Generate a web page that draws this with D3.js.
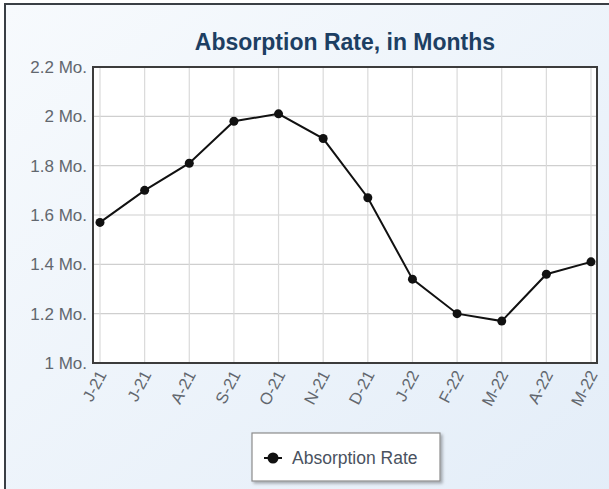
<!DOCTYPE html>
<html>
<head>
<meta charset="utf-8">
<script src="https://cdn.jsdelivr.net/npm/d3@7"></script>
<style>
  html, body { margin: 0; padding: 0; background: #fff; }
  svg { display: block; font-family: "Liberation Sans", Arial, sans-serif; }
</style>
</head>
<body>
<div id="chart"></div>
<script>
// --- Data ---
const months = ['J-21', 'J-21', 'A-21', 'S-21', 'O-21', 'N-21', 'D-21', 'J-22', 'F-22', 'M-22', 'A-22', 'M-22'];
const absorption = [1.57, 1.70, 1.81, 1.98, 2.01, 1.91, 1.67, 1.34, 1.20, 1.17, 1.36, 1.41];
const yTicks = [1, 1.2, 1.4, 1.6, 1.8, 2, 2.2];
const seriesName = 'Absorption Rate';
const title = 'Absorption Rate, in Months';

// --- Setup ---
const width = 609;
const height = 489;
const plot = { left: 93, right: 597, top: 67, bottom: 363 };

const svg = d3.select('#chart')
  .append('svg')
  .attr('width', width)
  .attr('height', height);

const defs = svg.append('defs');
const bg = defs.append('linearGradient')
  .attr('id', 'bg')
  .attr('x1', '0%').attr('y1', '0%')
  .attr('x2', '100%').attr('y2', '100%');
bg.append('stop').attr('offset', '0%').attr('stop-color', '#f7fafd');
bg.append('stop').attr('offset', '100%').attr('stop-color', '#e3edf8');

const shadow = defs.append('filter').attr('id', 'shadow')
  .attr('x', '-10%').attr('y', '-10%').attr('width', '130%').attr('height', '140%');
shadow.append('feDropShadow')
  .attr('dx', 2).attr('dy', 2).attr('stdDeviation', 1.5)
  .attr('flood-color', '#000').attr('flood-opacity', 0.3);

// Frame & background
svg.append('rect')
  .attr('x', 5).attr('y', 4)
  .attr('width', width + 10).attr('height', height + 10)
  .attr('fill', 'url(#bg)')
  .attr('stroke', '#3a3f45')
  .attr('stroke-width', 2);

// Title
svg.append('text')
  .attr('x', 345)
  .attr('y', 50)
  .attr('text-anchor', 'middle')
  .attr('font-size', 23)
  .attr('font-weight', 'bold')
  .attr('fill', '#1d3f63')
  .text(title);

// Scales
const x = d3.scaleLinear()
  .domain([0, months.length - 1])
  .range([100, 591]);

const y = d3.scaleLinear()
  .domain([1, 2.2])
  .range([plot.bottom, plot.top]);

// Plot background
svg.append('rect')
  .attr('x', plot.left).attr('y', plot.top)
  .attr('width', plot.right - plot.left)
  .attr('height', plot.bottom - plot.top)
  .attr('fill', '#fff');

// Gridlines
const grid = svg.append('g').attr('class', 'grid');
grid.selectAll('.hgrid')
  .data(yTicks)
  .enter().append('line')
  .attr('x1', plot.left).attr('x2', plot.right)
  .attr('y1', d => y(d)).attr('y2', d => y(d))
  .attr('stroke', '#cfcfcf')
  .attr('stroke-width', 1.2);

grid.selectAll('.vgrid')
  .data(d3.range(months.length))
  .enter().append('line')
  .attr('x1', d => x(d)).attr('x2', d => x(d))
  .attr('y1', plot.top).attr('y2', plot.bottom)
  .attr('stroke', '#dadada')
  .attr('stroke-width', 1.2);

// Y axis
const yAxis = d3.axisLeft(y)
  .tickValues(yTicks)
  .tickSize(0)
  .tickPadding(6)
  .tickFormat(d => `${d} Mo.`);

svg.append('g')
  .attr('transform', `translate(${plot.left},0)`)
  .call(yAxis)
  .call(g => g.select('.domain').remove())
  .selectAll('text')
  .attr('font-size', 17)
  .attr('fill', '#62676e');

// X axis
const xAxis = d3.axisBottom(x)
  .tickValues(d3.range(months.length))
  .tickSize(0)
  .tickFormat(i => months[i]);

svg.append('g')
  .attr('transform', `translate(0,${plot.bottom})`)
  .call(xAxis)
  .call(g => g.select('.domain').remove())
  .selectAll('text')
  .attr('font-size', 16.5)
  .attr('fill', '#62676e')
  .attr('text-anchor', 'end')
  .attr('dy', 0)
  .attr('transform', 'translate(4,10) rotate(-62)');

// Plot border
svg.append('rect')
  .attr('x', plot.left).attr('y', plot.top)
  .attr('width', plot.right - plot.left)
  .attr('height', plot.bottom - plot.top)
  .attr('fill', 'none')
  .attr('stroke', '#3c3c3c')
  .attr('stroke-width', 2);

// Line series
const line = d3.line()
  .x((d, i) => x(i))
  .y(d => y(d));

svg.append('path')
  .datum(absorption)
  .attr('d', line)
  .attr('fill', 'none')
  .attr('stroke', '#111')
  .attr('stroke-width', 2);

svg.selectAll('.dot')
  .data(absorption)
  .enter().append('circle')
  .attr('class', 'dot')
  .attr('cx', (d, i) => x(i))
  .attr('cy', d => y(d))
  .attr('r', 4.5)
  .attr('fill', '#111');

// Legend
const legend = svg.append('g').attr('transform', 'translate(252,433)');
legend.append('rect')
  .attr('width', 188).attr('height', 48)
  .attr('fill', '#fff')
  .attr('stroke', '#8c8c8c')
  .attr('stroke-width', 1.2)
  .attr('filter', 'url(#shadow)');
legend.append('line')
  .attr('x1', 12).attr('x2', 30)
  .attr('y1', 25).attr('y2', 25)
  .attr('stroke', '#111').attr('stroke-width', 2);
legend.append('circle')
  .attr('cx', 21).attr('cy', 25).attr('r', 5.5)
  .attr('fill', '#111');
legend.append('text')
  .attr('x', 40).attr('y', 31)
  .attr('font-size', 17.5)
  .attr('fill', '#4a5260')
  .text(seriesName);
</script>
</body>
</html>
